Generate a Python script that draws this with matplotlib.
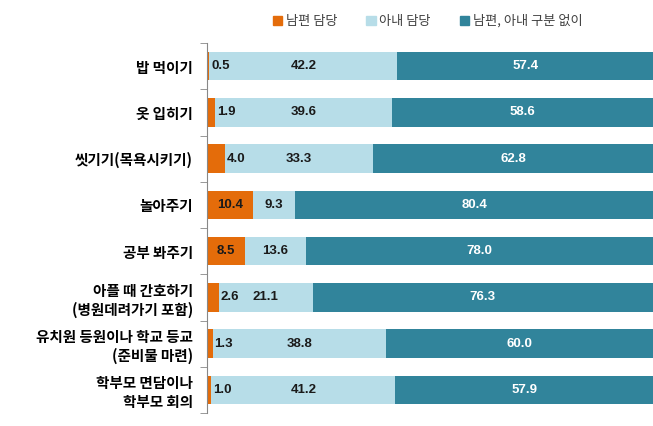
import numpy as np
import matplotlib.pyplot as plt
from matplotlib.patches import Patch

plt.rcParams['font.family'] = ['Noto Sans CJK KR', 'DejaVu Sans']

categories = ['밥 먹이기', '옷 입히기', '씻기기(목욕시키기)', '놀아주기', '공부 봐주기',
              '아플 때 간호하기\n(병원데려가기 포함)', '유치원 등원이나 학교 등교\n(준비물 마련)',
              '학부모 면담이나\n학부모 회의']
husband = [0.5, 1.9, 4.0, 10.4, 8.5, 2.6, 1.3, 1.0]
wife = [42.2, 39.6, 33.3, 9.3, 13.6, 21.1, 38.8, 41.2]
both = [57.4, 58.6, 62.8, 80.4, 78.0, 76.3, 60.0, 57.9]
series_names = ['남편 담당', '아내 담당', '남편, 아내 구분 없이']
colors = ['#E46C0A', '#B7DDE8', '#31849B']

fig = plt.figure(figsize=(6.53, 4.26), dpi=100)
ax = fig.add_axes([207 / 653, 13 / 426, 446 / 653, 370 / 426])

y = np.arange(len(categories))
h = np.array(husband)
w = np.array(wife)
b = np.array(both)
bh = 0.62
ax.barh(y, h, height=bh, color=colors[0])
ax.barh(y, w, left=h, height=bh, color=colors[1])
ax.barh(y, b, left=h + w, height=bh, color=colors[2])

lab = dict(fontsize=9.5, fontweight='bold', va='center', family=['Liberation Sans', 'DejaVu Sans'])
for i in range(len(categories)):
    if h[i] >= 8:
        ax.text(h[i] / 2, y[i], f'{h[i]:.1f}', ha='center', color='#1a1a1a', **lab)
    else:
        ax.text(h[i] + 0.4, y[i], f'{h[i]:.1f}', ha='left', color='#1a1a1a', **lab)
    ax.text(h[i] + w[i] / 2, y[i], f'{w[i]:.1f}', ha='center', color='#1a1a1a', **lab)
    ax.text(h[i] + w[i] + b[i] / 2, y[i], f'{b[i]:.1f}', ha='center', color='white', **lab)

ax.set_xlim(0, 100)
ax.set_ylim(len(categories) - 0.5, -0.5)
ax.set_yticks(y)
ax.set_yticklabels(categories, fontsize=10.5, fontweight='bold')
ax.tick_params(axis='y', which='major', length=0, pad=10)
ax.set_yticks(np.arange(len(categories) + 1) - 0.5, minor=True)
ax.tick_params(axis='y', which='minor', length=5, color='#888888')
ax.set_xticks([])
for s in ['top', 'right', 'bottom']:
    ax.spines[s].set_visible(False)
ax.spines['left'].set_color('#888888')
for t in ax.get_yticklabels():
    t.set_multialignment('right')

handles = [Patch(color=c) for c in colors]
leg = fig.legend(handles, series_names, loc='center', bbox_to_anchor=(0.655, 0.95), ncol=3,
                 frameon=False, fontsize=9.5, handlelength=0.7, handleheight=0.7,
                 handletextpad=0.3, columnspacing=2.2)
for t in leg.get_texts():
    t.set_color('#404040')

fig.savefig('out.png', dpi=100)
